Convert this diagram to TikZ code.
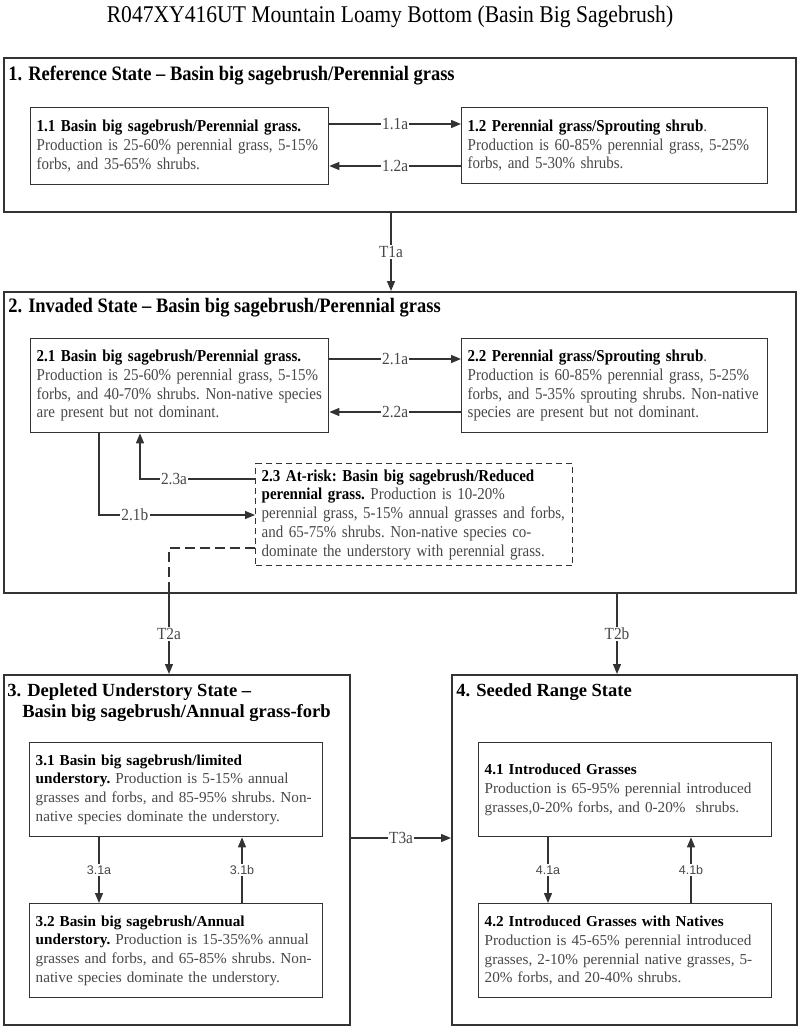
\documentclass[tikz,border=0pt]{standalone}
\usepackage{fontspec}
\setmainfont{Liberation Serif}
\newfontfamily\cond[FakeStretch=0.9,Ligatures=TeX]{Liberation Serif}
\newfontfamily\labsans{Liberation Sans}
\usetikzlibrary{arrows.meta}
\newcommand\pxx[1]{#1*0.75pt}
\newcommand\hdr[1]{{\bfseries\color{black}#1}}
\definecolor{txt}{gray}{0.28}
\definecolor{edge}{gray}{0.2}
\tikzset{
  statebox/.style={draw=edge, line width=1.6pt, anchor=north west, inner sep=0pt},
  phase/.style={draw=edge, line width=1pt, anchor=north west, align=left,
    inner xsep=\pxx{6}, inner ysep=0pt, text=txt},
  phaseA/.style={phase, font=\frenchspacing\cond\fontsize{12.5}{14.05}\selectfont},
  phaseB/.style={phase, font=\frenchspacing\fontsize{11.4}{14.05}\selectfont},
  stitleA/.style={anchor=west, inner sep=0pt, font=\cond\bfseries\fontsize{15.4}{17}\selectfont},
  stitleB/.style={anchor=west, inner sep=0pt, align=left, font=\bfseries\fontsize{13.9}{15.75}\selectfont},
  conn/.style={draw=edge, line width=1pt, -{Triangle[length=\pxx{10},width=\pxx{8}]}},
  lab/.style={fill=white, inner sep=1pt, text=txt, font=\cond\fontsize{12.75}{14}\selectfont},
  slab/.style={fill=white, inner sep=1pt, text=txt, font=\labsans\fontsize{9.4}{11}\selectfont},
  dashline/.style={draw=edge, line width=1.5pt, dash pattern=on \pxx{10} off \pxx{5}},
}
\begin{document}
\begin{tikzpicture}[x=0.75pt,y=-0.75pt]
\useasboundingbox (0,0) rectangle (800,1027);

% page title
\node[inner sep=0pt, font=\cond\fontsize{18}{20}\selectfont] (title) at (390,17)
  {R047XY416UT Mountain Loamy Bottom (Basin Big Sagebrush)};

% state boxes
\node[statebox, minimum width=\pxx{792}, minimum height=\pxx{154}] (s1) at (3,57) {};
\node[statebox, minimum width=\pxx{792}, minimum height=\pxx{301}] (s2) at (3,291) {};
\node[statebox, minimum width=\pxx{346}, minimum height=\pxx{350}] (s3) at (3,674) {};
\node[statebox, minimum width=\pxx{345}, minimum height=\pxx{350}] (s4) at (451,674) {};

% state titles
\node[stitleA] (t1) at (8,76) {1. Reference State – Basin big sagebrush/Perennial grass};
\node[stitleA] (t2) at (8,308) {2. Invaded State – Basin big sagebrush/Perennial grass};
\node[stitleB] (t3) at (7,702.5) {3. Depleted Understory State –\\\hspace*{11.25pt}Basin big sagebrush/Annual grass-forb};
\node[stitleB] (t4) at (456,692) {4. Seeded Range State};

% phase boxes, state 1
\node[phaseA, minimum width=\pxx{298}, minimum height=\pxx{77}, text width=\pxx{286}] (b11) at (30,107)
 {\mbox{\hdr{1.1 Basin big sagebrush/Perennial grass.}}\\
  \mbox{Production is 25-60\% perennial grass, 5-15\%}\\
  \mbox{forbs, and 35-65\% shrubs.}};
\node[phaseA, minimum width=\pxx{306}, minimum height=\pxx{76}, text width=\pxx{294}] (b12) at (461,107)
 {\mbox{\hdr{1.2 Perennial grass/Sprouting shrub}.}\\
  \mbox{Production is 60-85\% perennial grass, 5-25\%}\\
  \mbox{forbs, and 5-30\% shrubs.}};

% phase boxes, state 2
\node[phaseA, minimum width=\pxx{298}, minimum height=\pxx{94}, text width=\pxx{286}] (b21) at (30,338)
 {\mbox{\hdr{2.1 Basin big sagebrush/Perennial grass.}}\\
  \mbox{Production is 25-60\% perennial grass, 5-15\%}\\
  \mbox{forbs, and 40-70\% shrubs. Non-native species}\\
  \mbox{are present but not dominant.}};
\node[phaseA, minimum width=\pxx{306}, minimum height=\pxx{94}, text width=\pxx{294}] (b22) at (461,338)
 {\mbox{\hdr{2.2 Perennial grass/Sprouting shrub}.}\\
  \mbox{Production is 60-85\% perennial grass, 5-25\%}\\
  \mbox{forbs, and 5-35\% sprouting shrubs. Non-native}\\
  \mbox{species are present but not dominant.}};
\node[phaseA, dash pattern=on \pxx{6} off \pxx{4}, minimum width=\pxx{317}, minimum height=\pxx{102}, text width=\pxx{305}] (b23) at (255,463)
 {\mbox{\hdr{2.3 At-risk: Basin big sagebrush/Reduced}}\\
  \mbox{\hdr{perennial grass.} Production is 10-20\%}\\
  \mbox{perennial grass, 5-15\% annual grasses and forbs,}\\
  \mbox{and 65-75\% shrubs. Non-native species co-}\\
  \mbox{dominate the understory with perennial grass.}};

% phase boxes, state 3
\node[phaseB, minimum width=\pxx{293}, minimum height=\pxx{94}, text width=\pxx{281}] (b31) at (29,742)
 {\mbox{\hdr{3.1 Basin big sagebrush/limited}}\\
  \mbox{\hdr{understory.} Production is 5-15\% annual}\\
  \mbox{grasses and forbs, and 85-95\% shrubs. Non-}\\
  \mbox{native species dominate the understory.}};
\node[phaseB, minimum width=\pxx{293}, minimum height=\pxx{94}, text width=\pxx{281}] (b32) at (29,903)
 {\mbox{\hdr{3.2 Basin big sagebrush/Annual}}\\
  \mbox{\hdr{understory.} Production is 15-35\%\% annual}\\
  \mbox{grasses and forbs, and 65-85\% shrubs. Non-}\\
  \mbox{native species dominate the understory.}};

% phase boxes, state 4
\node[phaseB, minimum width=\pxx{293}, minimum height=\pxx{94}, text width=\pxx{281}] (b41) at (478,742)
 {\mbox{\hdr{4.1 Introduced Grasses}}\\
  \mbox{Production is 65-95\% perennial introduced}\\
  \mbox{grasses,0-20\% forbs, and 0-20\%\ \ shrubs.}};
\node[phaseB, minimum width=\pxx{293}, minimum height=\pxx{94}, text width=\pxx{281}] (b42) at (478,903)
 {\mbox{\hdr{4.2 Introduced Grasses with Natives}}\\
  \mbox{Production is 45-65\% perennial introduced}\\
  \mbox{grasses, 2-10\% perennial native grasses, 5-}\\
  \mbox{20\% forbs, and 20-40\% shrubs.}};

% connectors, state 1
\draw[conn] (b11.east |- 0,124) -- node[lab]{1.1a} (b12.west |- 0,124);
\draw[conn] (b12.west |- 0,166) -- node[lab]{1.2a} (b11.east |- 0,166);
\draw[conn] (s1.south -| 391,0) -- node[lab]{T1a} (s2.north -| 391,0);

% connectors, state 2
\draw[conn] (b21.east |- 0,359) -- node[lab]{2.1a} (b22.west |- 0,359);
\draw[conn] (b22.west |- 0,412) -- node[lab]{2.2a} (b21.east |- 0,412);
\draw[conn] (b23.west |- 0,479) -| node[lab, pos=0.352]{2.3a} (b21.south -| 140,0);
\draw[conn] (b21.south -| 99,0) |- node[lab, pos=0.615]{2.1b} (b23.west |- 0,515);
\draw[dashline] (b23.west |- 0,548) -| (s2.south -| 169,0);
\draw[conn] (s2.south -| 169,0) -- node[lab]{T2a} (s3.north -| 169,0);
\draw[conn] (s2.south -| 617,0) -- node[lab]{T2b} (s4.north -| 617,0);

% connectors, states 3 and 4
\draw[conn] (s3.east |- 0,838) -- node[lab]{T3a} (s4.west |- 0,838);
\draw[conn] (b31.south -| 99,0) -- node[slab]{3.1a} (b32.north -| 99,0);
\draw[conn] (b32.north -| 242,0) -- node[slab]{3.1b} (b31.south -| 242,0);
\draw[conn] (b41.south -| 548,0) -- node[slab]{4.1a} (b42.north -| 548,0);
\draw[conn] (b42.north -| 691,0) -- node[slab]{4.1b} (b41.south -| 691,0);
\end{tikzpicture}
\end{document}
